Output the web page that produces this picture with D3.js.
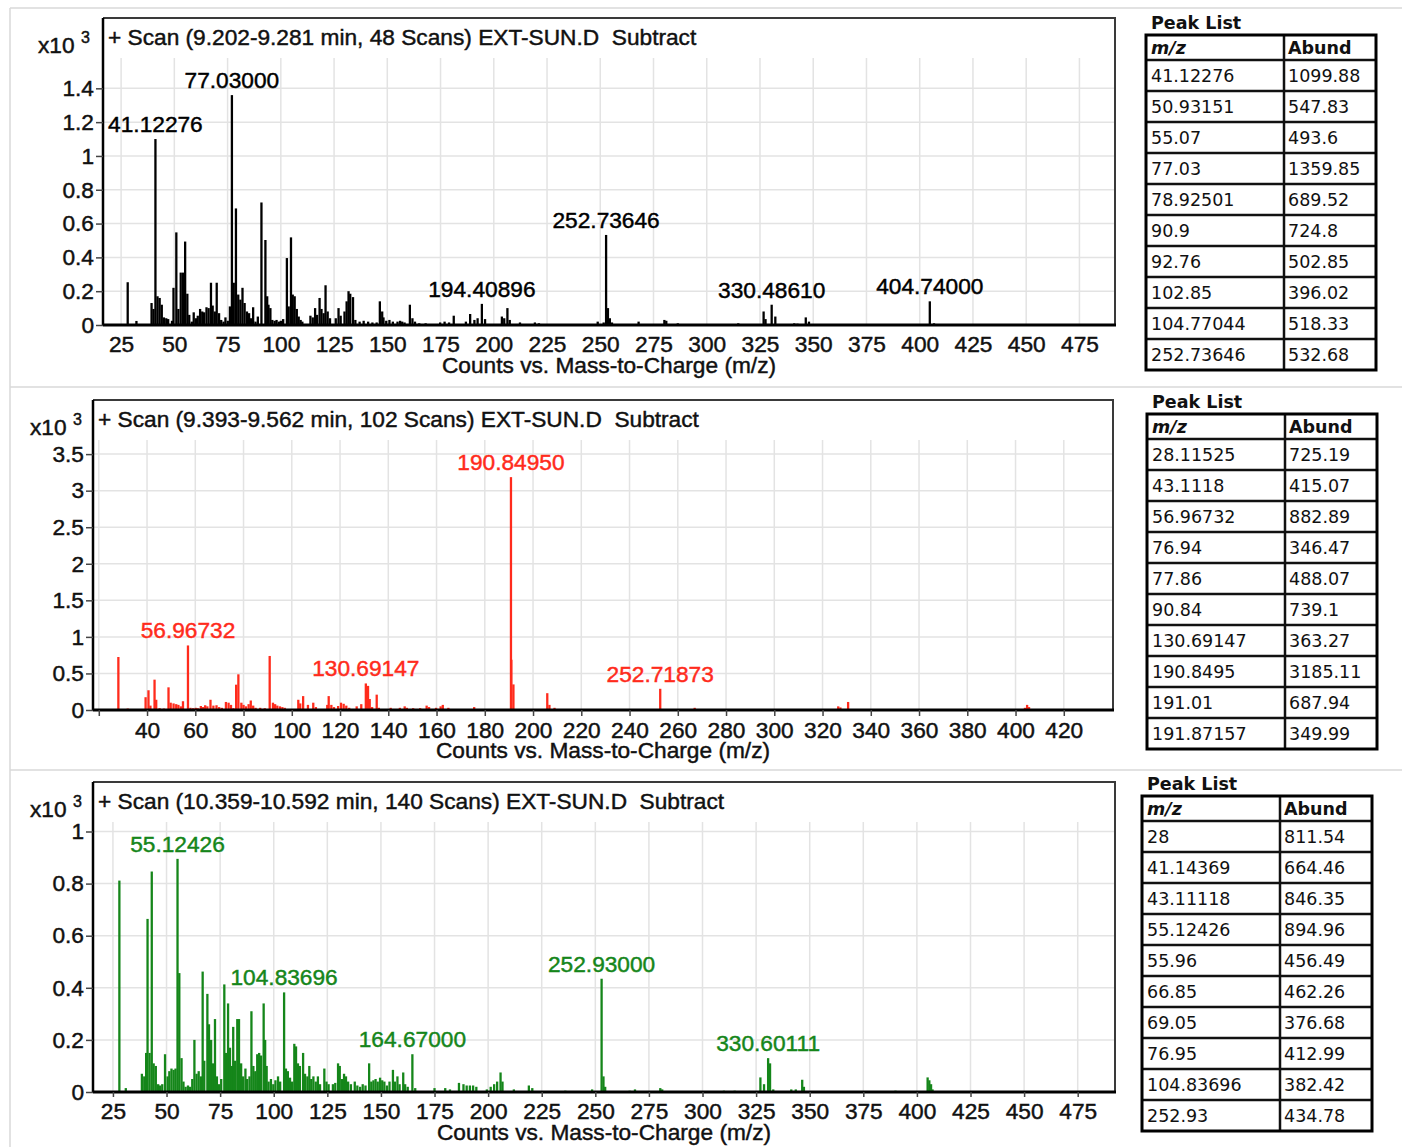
<!DOCTYPE html>
<html>
<head>
<meta charset="utf-8">
<script src="https://cdn.jsdelivr.net/npm/d3@7"></script>
<style>
  html, body { margin: 0; padding: 0; background: #fff; }
  svg { display: block; }
  .plot text { font-family: "Liberation Sans", Arial, Helvetica, sans-serif; }
  .tbl text { font-family: "DejaVu Sans", Verdana, sans-serif; }
</style>
</head>
<body>
<svg id="fig" width="1402" height="1147"></svg>
<script>
// ---------- Spectrum 1: scan 9.202-9.281 min (m/z, counts) ----------
const spectrum1 = [
  [28.1,253],[32.2,24],[39.3,130],[40.2,95],[41.12276,1099.88],[42.1,170],[43.1,160],[44.1,120],
  [45.1,45],[46.2,40],[47.1,35],[48.9,25],[49.6,220],[50.93151,547.83],[51.9,95],[53.0,310],
  [54.1,310],[55.07,493.6],[56.1,185],[57.0,60],[58.2,20],[59.1,75],[60.1,40],[61.0,55],[62.1,95],
  [63.1,80],[64.0,75],[65.1,105],[66.1,100],[67.2,250],[68.0,115],[69.0,80],[69.9,250],[71.0,70],
  [72.0,30],[73.1,20],[74.0,45],[75.1,25],[76.1,110],[77.03,1359.85],[77.9,250],[78.92501,689.52],
  [80.0,180],[81.0,150],[82.0,220],[83.0,130],[84.1,80],[85.1,70],[86.0,40],[87.0,105],[88.1,20],
  [89.2,50],[90.9,724.8],[92.76,502.85],[93.6,170],[94.2,120],[95.1,100],[96.0,30],[97.1,25],
  [98.0,30],[99.1,20],[100.0,25],[101.1,35],[102.85,396.02],[103.7,110],[104.77044,518.33],
  [105.6,180],[106.5,170],[107.5,95],[108.4,50],[109.3,30],[110.1,20],[113.9,55],[115.0,45],
  [116.1,100],[117.0,60],[118.2,160],[119.1,95],[120.1,70],[121.0,235],[122.0,80],[123.1,40],
  [125.8,40],[127.1,100],[128.1,55],[129.9,80],[130.9,140],[131.8,200],[132.6,185],[133.9,165],
  [135.0,30],[137.0,20],[138.9,25],[141.0,20],[143.0,15],[145.0,15],[146.5,140],[147.6,80],
  [148.2,45],[149.5,25],[151.0,30],[152.6,20],[154.8,20],[156.0,25],[157.0,20],[158.1,15],
  [160.6,120],[161.8,40],[163.0,20],[165.0,10],[168.0,10],[174.8,15],[176.9,20],[179.0,15],
  [181.2,55],[186.9,20],[188.9,65],[190.9,30],[192.4,40],[194.40896,125],[195.9,35],[203.8,50],
  [204.9,40],[206.4,100],[207.5,30],[212.3,15],[219.3,15],[221.2,10],[248.8,20],[251.6,15],
  [252.73646,532.68],[253.6,100],[254.5,40],[255.5,15],[268.0,20],[280.1,30],[281.0,25],
  [286.4,10],[314.8,10],[326.7,80],[327.6,35],[330.4861,120],[332.2,50],[341.1,10],[342.6,8],
  [346.5,45],[348.0,20],[404.74,140],[406.7,10]
];
const peakLabels1 = ["41.12276","77.03000","194.40896","252.73646","330.48610","404.74000"];
const peakListMz1 = ["41.12276","50.93151","55.07","77.03","78.92501","90.9","92.76","102.85","104.77044","252.73646"];
const peakListAb1 = ["1099.88","547.83","493.6","1359.85","689.52","724.8","502.85","396.02","518.33","532.68"];
const xTicks1 = [25,50,75,100,125,150,175,200,225,250,275,300,325,350,375,400,425,450,475];
const yTicks1 = [0,0.2,0.4,0.6,0.8,1,1.2,1.4];

// ---------- Spectrum 2: scan 9.393-9.562 min ----------
const spectrum2 = [
  [28.11525,725.19],[32.0,20],[39.4,175],[40.6,270],[41.4,60],[43.1118,415.07],[43.8,140],
  [45.2,25],[47.0,20],[48.9,310],[49.8,100],[51.0,90],[52.1,80],[53.0,70],[54.0,50],[54.9,120],
  [56.96732,882.89],[58.0,30],[59.1,25],[60.2,30],[61.0,25],[62.3,55],[63.2,40],[64.1,65],
  [65.0,50],[66.3,140],[67.5,60],[68.8,65],[69.9,40],[71.0,30],[72.7,110],[73.8,100],[74.8,70],
  [75.8,25],[76.94,346.47],[77.86,488.07],[79.1,100],[80.0,70],[81.0,50],[82.1,80],[83.0,130],
  [84.0,60],[85.0,30],[86.9,30],[88.8,25],[90.84,739.1],[92.2,100],[93.1,80],[94.0,60],[95.1,50],
  [96.1,40],[97.1,30],[102.7,140],[103.5,90],[104.7,190],[106.7,70],[108.9,100],[110.0,40],
  [114.7,70],[115.3,190],[116.4,70],[117.5,40],[119.2,55],[120.4,100],[121.5,85],[122.6,60],
  [123.8,30],[126.9,50],[128.8,80],[130.69147,363.27],[131.6,330],[132.3,150],[133.3,40],
  [135.2,210],[136.1,30],[141.0,30],[144.8,30],[146.8,50],[147.7,30],[150.3,25],[153.2,25],
  [155.9,60],[156.9,40],[159.8,30],[161.7,50],[162.6,70],[164.9,30],[175.6,40],
  [190.8495,3185.11],[191.01,687.94],[191.87157,349.99],[205.9,230],[206.8,70],[208.9,30],
  [252.71873,290],[267.0,30],[326.5,50],[327.4,35],[330.6,110],[403.9,30],[404.8,70],[405.6,40]
];
const peakLabels2 = ["56.96732","130.69147","190.84950","252.71873"];
const peakListMz2 = ["28.11525","43.1118","56.96732","76.94","77.86","90.84","130.69147","190.8495","191.01","191.87157"];
const peakListAb2 = ["725.19","415.07","882.89","346.47","488.07","739.1","363.27","3185.11","687.94","349.99"];
const xTicks2 = [20,40,60,80,100,120,140,160,180,200,220,240,260,280,300,320,340,360,380,400,420];
const yTicks2 = [0,0.5,1,1.5,2,2.5,3,3.5];

// ---------- Spectrum 3: scan 10.359-10.592 min ----------
const spectrum3 = [
  [28,811.54],[31.0,15],[38.5,70],[39.6,60],[40.5,150],[41.14369,664.46],[42.1,150],
  [43.11118,846.35],[44.0,110],[45.0,100],[46.1,30],[47.0,25],[48.0,30],[49.3,145],[50.5,60],
  [51.3,80],[52.3,90],[53.3,85],[54.2,90],[55.12426,894.96],[55.96,456.49],[57.0,130],[57.9,40],
  [58.9,20],[60.0,25],[61.0,20],[62.0,50],[63.0,200],[64.0,70],[65.0,80],[66.0,60],[66.85,462.26],
  [67.6,120],[69.05,376.68],[69.8,260],[70.8,200],[71.7,110],[72.6,280],[73.5,60],[74.5,30],
  [75.5,50],[76.95,412.99],[77.8,150],[78.7,340],[79.6,170],[80.5,100],[81.1,250],[82.0,120],
  [83.0,280],[83.8,280],[84.8,110],[85.7,60],[86.8,90],[87.6,50],[88.7,60],[89.6,310],[90.5,100],
  [91.4,80],[92.3,145],[93.2,150],[94.1,140],[95.3,340],[96.0,200],[96.7,100],[97.6,40],[98.7,50],
  [99.8,30],[100.8,45],[102.0,60],[103.0,40],[104.83696,382.42],[105.7,90],[106.6,80],[107.6,55],
  [108.6,40],[109.6,185],[110.4,175],[111.3,110],[112.2,100],[113.7,150],[114.6,70],[115.7,60],
  [116.6,100],[117.5,50],[118.5,60],[119.6,40],[120.6,60],[121.6,30],[123.6,90],[124.6,40],
  [125.6,30],[127.6,30],[128.7,35],[130.0,110],[130.8,100],[131.8,50],[132.8,70],[133.7,60],
  [134.7,40],[136.0,30],[137.8,40],[139.0,25],[140.3,20],[141.5,30],[142.8,25],[144.5,110],
  [145.5,40],[146.5,45],[147.5,50],[148.5,40],[149.6,55],[150.6,45],[151.6,40],[152.8,25],
  [154.0,40],[155.6,85],[156.5,40],[157.7,60],[158.7,30],[160.4,75],[161.3,30],[162.5,20],
  [164.67,145],[166.0,15],[175.0,15],[180.0,15],[182.2,10],[186.4,35],[188.5,30],[190.0,25],
  [191.5,25],[193.0,25],[194.5,20],[199.4,10],[201.2,20],[202.8,30],[204.2,40],[205.8,75],
  [206.7,40],[212.0,10],[219.0,25],[220.6,15],[236.0,5],[248.5,10],[252.93,434.78],[253.8,60],
  [254.6,20],[266.0,5],[268.5,10],[280.3,15],[281.2,10],[310.0,5],[315.0,5],[327.0,56],
  [328.7,30],[330.60111,130],[331.5,110],[333.0,10],[341.4,10],[343.5,10],[346.5,47],[347.3,20],
  [390.0,5],[405.0,56],[405.8,45],[406.6,30],[407.3,10]
];
const peakLabels3 = ["55.12426","104.83696","164.67000","252.93000","330.60111"];
const peakListMz3 = ["28","41.14369","43.11118","55.12426","55.96","66.85","69.05","76.95","104.83696","252.93"];
const peakListAb3 = ["811.54","664.46","846.35","894.96","456.49","462.26","376.68","412.99","382.42","434.78"];
const xTicks3 = [25,50,75,100,125,150,175,200,225,250,275,300,325,350,375,400,425,450,475];
const yTicks3 = [0,0.2,0.4,0.6,0.8,1];

const scanTitles = [
  "+ Scan (9.202-9.281 min, 48 Scans) EXT-SUN.D  Subtract",
  "+ Scan (9.393-9.562 min, 102 Scans) EXT-SUN.D  Subtract",
  "+ Scan (10.359-10.592 min, 140 Scans) EXT-SUN.D  Subtract"
];
const axisTitle = "Counts vs. Mass-to-Charge (m/z)";

// ---------- layout ----------
const svg = d3.select("#fig");
const FONT = 22.7;
const HEAVY = 0.45; // slight stroke so the chart lettering reads as heavy as printed Helvetica

// panel frames
svg.append("g").attr("stroke", "#d9d9d9").attr("stroke-width", 1.5).attr("fill", "none")
  .selectAll("line")
  .data([[10, 8, 1402, 8], [10, 387, 1402, 387], [10, 770, 1402, 770], [10, 8, 10, 1147]])
  .join("line")
  .attr("x1", d => d[0]).attr("y1", d => d[1]).attr("x2", d => d[2]).attr("y2", d => d[3]);

const panels = [
  { data: spectrum1, labels: peakLabels1, xTicks: xTicks1, yTicks: yTicks1, hideX: [],
    color: "#000000", title: scanTitles[0],
    box: { l: 103, t: 18, r: 1115, b: 325 }, xDomain: [16.5, 491.7], yMax: 1.816, xTickLen: 0,
    multX: 38,
    table: { mz: peakListMz1, ab: peakListAb1, x: 1146, y: 35, c: 1284, w: 230 } },
  { data: spectrum2, labels: peakLabels2, xTicks: xTicks2, yTicks: yTicks2, hideX: [20],
    color: "#ff2b1c", title: scanTitles[1],
    box: { l: 93, t: 400, r: 1113, b: 710 }, xDomain: [17.6, 440.4], yMax: 4.24, xTickLen: 6,
    multX: 30,
    table: { mz: peakListMz2, ab: peakListAb2, x: 1147, y: 414, c: 1285, w: 230 } },
  { data: spectrum3, labels: peakLabels3, xTicks: xTicks3, yTicks: yTicks3, hideX: [],
    color: "#15861a", title: scanTitles[2],
    box: { l: 93, t: 782, r: 1115, b: 1092 }, xDomain: [15.7, 492.4], yMax: 1.19, xTickLen: 5,
    multX: 30,
    table: { mz: peakListMz3, ab: peakListAb3, x: 1142, y: 796, c: 1280, w: 230 } }
];

const yFmt = d => String(+d.toFixed(1));
const heavy = (sel, col) => sel.attr("stroke", col).attr("stroke-width", HEAVY);

panels.forEach(p => {
  const B = p.box;
  const g = svg.append("g").attr("class", "plot");
  const x = d3.scaleLinear().domain(p.xDomain).range([B.l, B.r]);
  const y = d3.scaleLinear().domain([0, p.yMax]).range([B.b, B.t]);
  const gridTop = B.t + 40;

  // grid
  g.append("g").selectAll("line.h").data(p.yTicks.filter(v => v > 0)).join("line")
    .attr("x1", B.l).attr("x2", B.r).attr("y1", d => y(d)).attr("y2", d => y(d))
    .attr("stroke", "#e3e3e3").attr("stroke-width", 1.5);
  g.append("g").selectAll("line.v").data(p.xTicks).join("line")
    .attr("x1", d => x(d)).attr("x2", d => x(d)).attr("y1", gridTop).attr("y2", B.b)
    .attr("stroke", "#e3e3e3").attr("stroke-width", 1.5);

  // spectrum sticks
  g.append("g").selectAll("line").data(p.data).join("line")
    .attr("x1", d => x(d[0])).attr("x2", d => x(d[0]))
    .attr("y1", y(0)).attr("y2", d => y(d[1] / 1000))
    .attr("stroke", p.color).attr("stroke-width", 2.3);

  // frame
  g.append("path")
    .attr("d", `M${B.l},${B.t}H${B.r}V${B.b}`)
    .attr("fill", "none").attr("stroke", "#3a3a3a").attr("stroke-width", 2);
  g.append("line").attr("x1", B.l).attr("x2", B.l).attr("y1", B.t).attr("y2", B.b + 1)
    .attr("stroke", "#000").attr("stroke-width", 2.5);
  g.append("line").attr("x1", B.l).attr("x2", B.r + 1).attr("y1", B.b).attr("y2", B.b)
    .attr("stroke", "#000").attr("stroke-width", 3);

  // axes
  const ya = g.append("g").attr("transform", `translate(${B.l},0)`)
    .call(d3.axisLeft(y).tickValues(p.yTicks).tickSize(7).tickPadding(2).tickFormat(yFmt));
  const xa = g.append("g").attr("transform", `translate(0,${B.b})`)
    .call(d3.axisBottom(x).tickValues(p.xTicks).tickSize(p.xTickLen).tickPadding(p.xTickLen ? 6 : 11)
      .tickFormat(d => p.hideX.includes(d) ? "" : d));
  [ya, xa].forEach(a => {
    a.select(".domain").remove();
    a.selectAll("line").attr("stroke", "#444").attr("stroke-width", 1.5);
    heavy(a.selectAll("text").attr("font-size", FONT).attr("fill", "#111")
      .style("font-family", '"Liberation Sans", Arial, sans-serif'), "#111");
  });

  // axis title
  heavy(g.append("text").attr("x", (B.l + B.r) / 2).attr("y", B.b + 48)
    .attr("text-anchor", "middle").attr("font-size", FONT).attr("fill", "#111").text(axisTitle), "#111");

  // scan title
  heavy(g.append("text").attr("x", B.l + 5).attr("y", B.t + 27)
    .attr("font-size", FONT).attr("fill", "#111").style("white-space", "pre").text(p.title), "#111");

  // multiplier
  const m = g.append("text").attr("x", p.multX).attr("y", B.t + 35)
    .attr("font-size", FONT).attr("fill", "#111");
  heavy(m, "#111");
  m.append("tspan").text("x10 ");
  m.append("tspan").attr("font-size", 16).attr("dy", -10).text("3");

  // peak annotations
  heavy(g.append("g").selectAll("text").data(p.labels).join("text")
    .attr("x", d => x(+d))
    .attr("y", d => {
      const pk = p.data.find(v => Math.abs(v[0] - +d) < 1e-6);
      return y(pk[1] / 1000) - 7;
    })
    .attr("text-anchor", "middle").attr("font-size", FONT).attr("fill", p.color)
    .text(d => d), p.color);

  // peak list table
  const T = p.table;
  const tg = svg.append("g").attr("class", "tbl");
  const headH = 25, rowH = 31;
  const tH = headH + rowH * T.mz.length;
  tg.append("text").attr("x", T.x + 5).attr("y", T.y - 6)
    .attr("font-size", 17.5).attr("font-weight", "bold").attr("fill", "#111").text("Peak List");
  const rowsY = [T.y, T.y + headH].concat(T.mz.map((_, i) => T.y + headH + rowH * (i + 1)));
  tg.append("g").selectAll("line").data(rowsY.slice(1, -1)).join("line")
    .attr("x1", T.x).attr("x2", T.x + T.w).attr("y1", d => d).attr("y2", d => d)
    .attr("stroke", "#111").attr("stroke-width", 2.5);
  tg.append("line").attr("x1", T.c).attr("x2", T.c).attr("y1", T.y).attr("y2", T.y + tH)
    .attr("stroke", "#111").attr("stroke-width", 2.5);
  tg.append("rect").attr("x", T.x).attr("y", T.y).attr("width", T.w).attr("height", tH)
    .attr("fill", "none").attr("stroke", "#000").attr("stroke-width", 3);
  tg.append("text").attr("x", T.x + 5).attr("y", T.y + 19).attr("font-size", 17.5)
    .attr("font-weight", "bold").attr("font-style", "italic").attr("fill", "#111").text("m/z");
  tg.append("text").attr("x", T.c + 4).attr("y", T.y + 19).attr("font-size", 17.5)
    .attr("font-weight", "bold").attr("fill", "#111").text("Abund");
  T.mz.forEach((v, i) => {
    const by = T.y + headH + rowH * i + 22;
    tg.append("text").attr("x", T.x + 5).attr("y", by).attr("font-size", 17.5).attr("fill", "#111").text(v);
    tg.append("text").attr("x", T.c + 4).attr("y", by).attr("font-size", 17.5).attr("fill", "#111").text(T.ab[i]);
  });
});
</script>
</body>
</html>
